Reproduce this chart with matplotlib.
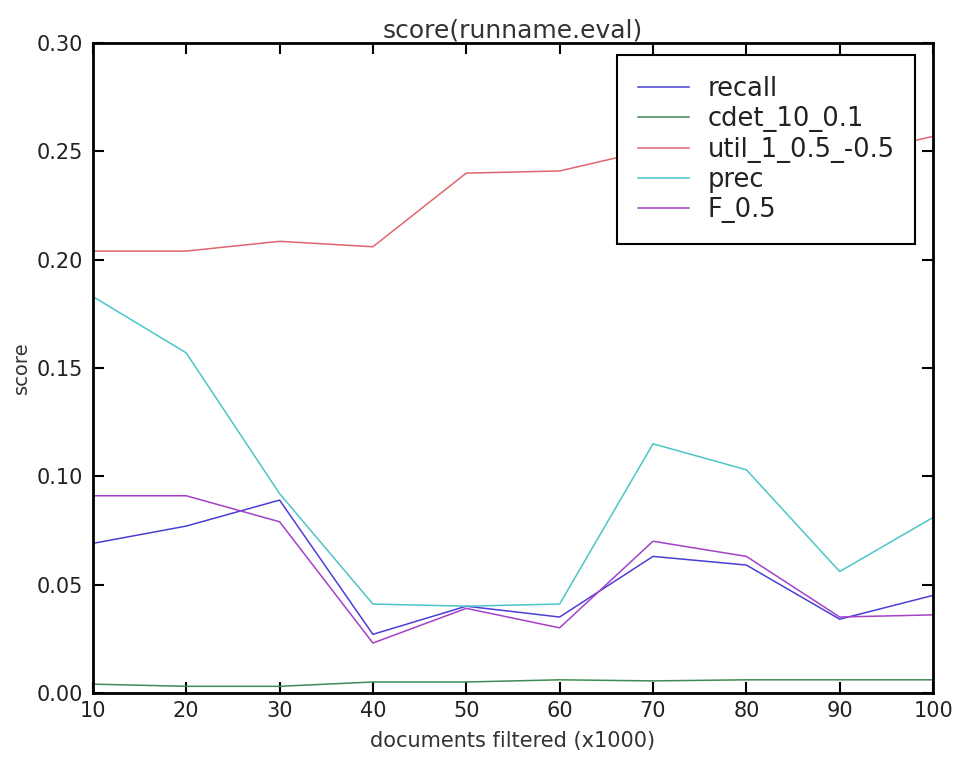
import matplotlib
matplotlib.use("Agg")
import matplotlib.pyplot as plt

docs = [10, 20, 30, 40, 50, 60, 70, 80, 90, 100]
recall = [0.069, 0.077, 0.089, 0.027, 0.040, 0.035, 0.063, 0.059, 0.034, 0.045]
cdet = [0.004, 0.003, 0.003, 0.005, 0.005, 0.006, 0.0055, 0.006, 0.006, 0.006]
util = [0.204, 0.204, 0.2085, 0.206, 0.240, 0.241, 0.251, 0.250, 0.247, 0.257]
prec = [0.183, 0.157, 0.092, 0.041, 0.040, 0.041, 0.115, 0.103, 0.056, 0.081]
f05 = [0.091, 0.091, 0.079, 0.023, 0.039, 0.030, 0.070, 0.063, 0.035, 0.036]

names = ["recall", "cdet_10_0.1", "util_1_0.5_-0.5", "prec", "F_0.5"]
colors = ["#4a3fd6", "#3f8a55", "#e0666e", "#4cc6c6", "#a540c8"]

fig = plt.figure(figsize=(9.57, 7.58), dpi=100)
ax = fig.add_axes([0.097, 0.086, 0.878, 0.857])

for ys, name, c in zip([recall, cdet, util, prec, f05], names, colors):
    ax.plot(docs, ys, color=c, lw=1.1, label=name)

ax.set_xlim(10, 100)
ax.set_ylim(0, 0.30)
ax.set_xticks(docs)
ax.set_yticks([0, 0.05, 0.10, 0.15, 0.20, 0.25, 0.30])
ax.set_yticklabels(["0.00", "0.05", "0.10", "0.15", "0.20", "0.25", "0.30"])
ax.tick_params(direction="in", length=8, width=1.5, top=True, right=True,
               labelsize=15, labelcolor="#222222")
ax.tick_params(axis="x", pad=6)
ax.tick_params(axis="y", pad=7)
for s in ax.spines.values():
    s.set_linewidth(2)

ax.set_title("score(runname.eval)", fontsize=18, color="#333333", pad=4)
ax.set_xlabel("documents filtered (x1000)", fontsize=15, color="#333333", labelpad=7)
ax.set_ylabel("score", fontsize=14, color="#333333", labelpad=4)

leg = ax.legend(loc="upper right", bbox_to_anchor=(0.9786, 0.9815), borderaxespad=0,
                fontsize=18.5, fancybox=False, framealpha=1, edgecolor="black",
                labelspacing=0.17, handlelength=2.0, handletextpad=0.7, borderpad=0.8)
leg.get_frame().set_linewidth(1.5)
for t in leg.get_texts():
    t.set_color("#222222")

fig.savefig("out.png", dpi=100)
